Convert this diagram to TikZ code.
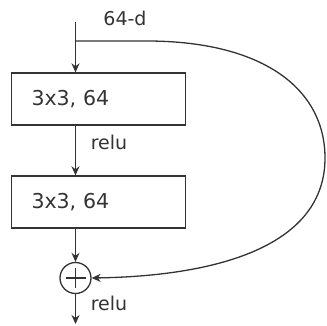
\documentclass[tikz,border=0pt]{standalone}
\usepackage{fontspec}
\setmainfont{DejaVu Sans}
\usetikzlibrary{arrows.meta}
\begin{document}
\begin{tikzpicture}[x=1pt,y=-1pt,
  line width=1.3pt, draw=black!80,
  arr/.style={-{Stealth[length=9pt,width=8pt]}},
  layer/.style={draw, rectangle, text width=134pt, inner xsep=20pt, inner ysep=0pt, align=left, minimum height=52pt, font=\fontsize{20.5}{24}\selectfont, text=black!80},
  lab/.style={font=\fontsize{19}{21}\selectfont, text=black!80, inner sep=0pt},
  addop/.style={draw, circle, minimum size=31pt, inner sep=0pt,
    path picture={\draw[line width=1.3pt] ([xshift=-10pt]path picture bounding box.center) -- ([xshift=10pt]path picture bounding box.center) ([yshift=-10pt]path picture bounding box.center) -- ([yshift=10pt]path picture bounding box.center);}}]
\useasboundingbox (0,0) rectangle (327,325);
\coordinate (in) at (75.5,22);
\coordinate (split) at (75.5,41);
\node[layer] (b1) at (98.5,99) {3x3, 64};
\node[layer] (b2) at (98.5,202) {3x3, 64};
\node[addop] (add) at (75.5,278) {};
\coordinate (out) at (75.5,324);
\node[lab] (d) at (125,18) {64-d};
\node[lab] (r1) at (109,142) {relu};
\node[lab] (r2) at (109,303) {relu};
\draw[arr] (in) -- (in |- b1.north);
\draw[arr] (b1.south -| in) -- (b2.north -| in);
\draw[arr] (b2.south -| in) -- (add.north);
\draw[arr] (add.south) -- (out);
\draw[arr] (split) -- (150,41) .. controls (265,42) and (325,90) .. (325,158) .. controls (325,245) and (220,276) .. (add.east);
\end{tikzpicture}
\end{document}
